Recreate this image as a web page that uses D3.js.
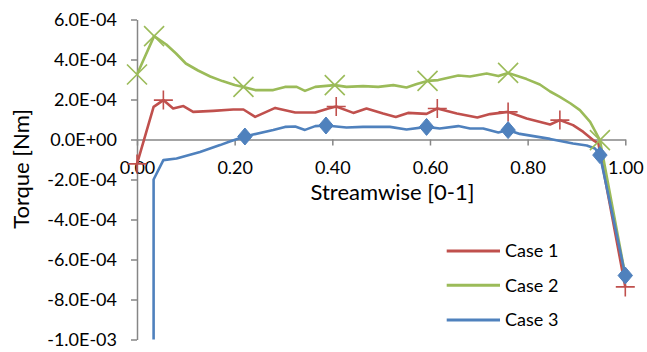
<!DOCTYPE html>
<html>
<head>
<meta charset="utf-8">
<script src="https://cdn.jsdelivr.net/npm/d3@7/dist/d3.min.js"></script>
<style>
  html, body { margin: 0; padding: 0; background: #fff; }
  svg { display: block; font-family: Lato, "Open Sans", sans-serif; }
</style>
</head>
<body>
<svg id="chart" width="647" height="352"></svg>
<script>
// Torque values are listed in units of 1E-4 Nm.
const UNIT = 1e-4;

const seriesNames = ["Case 1", "Case 2", "Case 3"];

const case1 = [
  [0, -1.22], [0.034, 1.63], [0.054, 1.97], [0.074, 1.55], [0.095, 1.67], [0.115, 1.38],
  [0.156, 1.43], [0.197, 1.5], [0.218, 1.5], [0.242, 1.13], [0.283, 1.58], [0.324, 1.35],
  [0.365, 1.35], [0.392, 1.55], [0.408, 1.65], [0.443, 1.33], [0.470, 1.55], [0.504, 1.3],
  [0.530, 1.13], [0.555, 1.33], [0.593, 1.28], [0.615, 1.55], [0.655, 1.3], [0.697, 1.1],
  [0.723, 1.27], [0.760, 1.38], [0.798, 1.05], [0.846, 0.75], [0.866, 0.97], [0.893, 0.72],
  [0.914, 0.38], [0.934, -0.03], [0.945, -0.2], [1.0, -7.37]
];

const case2 = [
  [0, 3.25], [0.035, 5.17], [0.06, 4.75], [0.08, 4.3], [0.10, 3.8], [0.125, 3.45],
  [0.15, 3.15], [0.175, 2.92], [0.20, 2.72], [0.218, 2.63], [0.242, 2.47], [0.279, 2.47],
  [0.303, 2.63], [0.327, 2.63], [0.344, 2.43], [0.365, 2.63], [0.405, 2.72], [0.429, 2.63],
  [0.463, 2.67], [0.494, 2.63], [0.525, 2.72], [0.552, 2.6], [0.573, 2.77], [0.595, 2.93],
  [0.617, 2.97], [0.658, 3.2], [0.682, 3.15], [0.716, 3.3], [0.740, 3.17], [0.760, 3.33],
  [0.798, 3.02], [0.825, 2.75], [0.846, 2.4], [0.866, 2.13], [0.888, 1.8], [0.907, 1.47],
  [0.928, 0.88], [0.948, -0.03], [1.0, -6.8]
];

const case3 = [
  [0.034, -16], [0.034, -2.0], [0.054, -1.03], [0.081, -0.95], [0.129, -0.62], [0.170, -0.28],
  [0.190, -0.1], [0.221, 0.15], [0.238, 0.25], [0.279, 0.47], [0.303, 0.63], [0.324, 0.65],
  [0.344, 0.48], [0.365, 0.67], [0.387, 0.7], [0.429, 0.6], [0.463, 0.63], [0.518, 0.63],
  [0.552, 0.5], [0.593, 0.63], [0.620, 0.55], [0.658, 0.67], [0.682, 0.55], [0.709, 0.55],
  [0.740, 0.35], [0.760, 0.47], [0.784, 0.28], [0.846, 0.03], [0.893, -0.2], [0.921, -0.3],
  [0.938, -0.45], [0.948, -0.78], [1.0, -6.8]
];

// Streamwise positions that carry a marker on each curve
const case1Markers = [0, 0.054, 0.408, 0.615, 0.760, 0.866, 1.0];
const case2Markers = [0, 0.035, 0.218, 0.405, 0.595, 0.760, 0.948];
const case3Markers = [0.034, 0.221, 0.387, 0.593, 0.760, 0.948, 1.0];

const xTickValues = [0, 0.2, 0.4, 0.6, 0.8, 1.0];
const xTickLabels = ["0.00", "0.20", "0.40", "0.60", "0.80", "1.00"];
const yTickValues = [6e-4, 4e-4, 2e-4, 0, -2e-4, -4e-4, -6e-4, -8e-4, -1e-3];
const yTickLabels = ["6.0E-04", "4.0E-04", "2.0E-04", "0.0E+00", "-2.0E-04", "-4.0E-04", "-6.0E-04", "-8.0E-04", "-1.0E-03"];

const xTitle = "Streamwise [0-1]";
const yTitle = "Torque [Nm]";

const colors = ["#C0504D", "#9BBB59", "#4F81BD"];
const axisColor = "#868686";

const svg = d3.select("#chart");
const plotLeft = 137, plotRight = 625.3, plotTop = 19.5, plotBottom = 339.5;

const x = d3.scaleLinear().domain([0, 1]).range([plotLeft, plotRight]);
const y = d3.scaleLinear().domain([-1e-3, 6e-4]).range([plotBottom, plotTop]);

// Marker shapes
const plusShape = { draw(ctx, size) { const r = Math.sqrt(size) / 2;
  ctx.moveTo(-r, 0); ctx.lineTo(r, 0); ctx.moveTo(0, -r); ctx.lineTo(0, r); } };
const crossShape = { draw(ctx, size) { const r = Math.sqrt(size) / 2;
  ctx.moveTo(-r, -r); ctx.lineTo(r, r); ctx.moveTo(-r, r); ctx.lineTo(r, -r); } };
const diamondShape = { draw(ctx, size) { const r = Math.sqrt(size) / 2;
  ctx.moveTo(0, -r); ctx.lineTo(r * 0.85, 0); ctx.lineTo(0, r); ctx.lineTo(-r * 0.85, 0); ctx.closePath(); } };

const series = [
  { data: case1, markers: case1Markers, shape: plusShape, size: 19 * 19, filled: false },
  { data: case2, markers: case2Markers, shape: crossShape, size: 20 * 20, filled: false },
  { data: case3, markers: case3Markers, shape: diamondShape, size: 17 * 17, filled: true }
];

// Axes
const yAxis = d3.axisLeft(y)
  .tickValues(yTickValues)
  .tickFormat((d, i) => yTickLabels[i])
  .tickSize(6).tickSizeOuter(0).tickPadding(14);
const gy = svg.append("g").attr("transform", `translate(${plotLeft},0)`).call(yAxis);

const xAxis = d3.axisBottom(x)
  .tickValues(xTickValues)
  .tickFormat((d, i) => xTickLabels[i])
  .tickSize(6).tickSizeOuter(0);
const gx = svg.append("g").attr("transform", `translate(0,${y(0)})`).call(xAxis);

[gx, gy].forEach(g => {
  g.select(".domain").attr("stroke", axisColor).attr("stroke-width", 1.5);
  g.selectAll(".tick line").attr("stroke", axisColor).attr("stroke-width", 1.5);
  g.selectAll("text").attr("fill", "#000").style("font-size", "18px").style("font-family", "Lato, sans-serif");
});
gx.selectAll(".tick text").attr("y", 34).attr("dy", 0);
gy.selectAll(".tick text").attr("dy", "0.36em");

// Series lines, clipped to the plot's vertical extent
svg.append("clipPath").attr("id", "plotClip")
  .append("rect").attr("x", 0).attr("y", plotTop).attr("width", 647).attr("height", plotBottom - plotTop);

const line = d3.line().x(d => x(d[0])).y(d => y(d[1] * UNIT));
const plot = svg.append("g");

plot.selectAll("path.series").data(series).join("path")
  .attr("class", "series")
  .attr("clip-path", "url(#plotClip)")
  .attr("d", s => line(s.data))
  .attr("fill", "none")
  .attr("stroke", (s, i) => colors[i])
  .attr("stroke-width", 2.6)
  .attr("stroke-linejoin", "round");

series.forEach((s, i) => {
  const pts = s.markers.map(mx => s.data.find(d => d[0] === mx));
  plot.append("g").selectAll("path").data(pts).join("path")
    .attr("transform", d => `translate(${x(d[0])},${y(d[1] * UNIT)})`)
    .attr("d", d3.symbol().type(s.shape).size(s.size)())
    .attr("fill", s.filled ? colors[i] : "none")
    .attr("stroke", colors[i])
    .attr("stroke-width", s.filled ? 1 : 1.6);
});

// Axis titles
svg.append("text")
  .attr("x", 392.5).attr("y", 199.5)
  .attr("text-anchor", "middle")
  .style("font-size", "22px")
  .text(xTitle);

svg.append("text")
  .attr("transform", "translate(29,169) rotate(-90)")
  .attr("text-anchor", "middle")
  .style("font-size", "22px")
  .text(yTitle);

// Legend
const legend = svg.append("g");
const legendY = [251, 285.3, 320];
seriesNames.forEach((name, i) => {
  legend.append("line")
    .attr("x1", 446.7).attr("x2", 500)
    .attr("y1", legendY[i]).attr("y2", legendY[i])
    .attr("stroke", colors[i]).attr("stroke-width", 3);
  legend.append("text")
    .attr("x", 505).attr("y", legendY[i]).attr("dy", "0.36em")
    .style("font-size", "18px")
    .text(name);
});
</script>
</body>
</html>
